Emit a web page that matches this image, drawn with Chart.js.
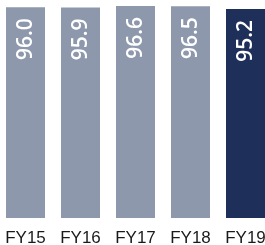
<!DOCTYPE html>
<html>
<head>
<meta charset="utf-8">
<script src="https://cdn.jsdelivr.net/npm/chart.js@4"></script>
<style>
  html, body { margin: 0; padding: 0; background: #fff; overflow: hidden; }
  #wrap { position: absolute; left: -2px; top: 0; width: 275px; height: 245px; }
</style>
</head>
<body>
<div id="wrap"><canvas id="chart"></canvas></div>
<script>
const years = ["FY15", "FY16", "FY17", "FY18", "FY19"];
const scores = [96.0, 95.9, 96.6, 96.5, 95.2];
const barColors = ["#8d98ad", "#8d98ad", "#8d98ad", "#8d98ad", "#1e2f5a"];

// rotated value labels inside the top of each bar
const valueLabels = {
  id: "valueLabels",
  afterDatasetsDraw(chart) {
    const ctx = chart.ctx;
    const meta = chart.getDatasetMeta(0);
    ctx.save();
    ctx.fillStyle = "#fff";
    ctx.font = "600 21px 'Open Sans', Arial, sans-serif";
    ctx.textAlign = "right";
    ctx.textBaseline = "middle";
    meta.data.forEach((bar, i) => {
      ctx.save();
      ctx.translate(bar.x + 1, bar.y + 11);
      ctx.rotate(-Math.PI / 2);
      ctx.fillText(scores[i].toFixed(1), 0, 0);
      ctx.restore();
    });
    ctx.restore();
  }
};

new Chart(document.getElementById("chart"), {
  type: "bar",
  data: {
    labels: years,
    datasets: [{
      data: scores,
      backgroundColor: barColors,
      categoryPercentage: 39 / 55,
      barPercentage: 1
    }]
  },
  options: {
    responsive: true,
    maintainAspectRatio: false,
    animation: false,
    layout: { padding: 0 },
    plugins: { legend: { display: false }, tooltip: { enabled: false } },
    scales: {
      x: {
        grid: { display: false },
        border: { display: false },
        afterFit(scale) { scale.height = 27; },
        ticks: {
          color: "#1a1a1a",
          font: { family: "'Liberation Sans', Arial, sans-serif", size: 17 },
          padding: 2,
          maxRotation: 0
        }
      },
      y: {
        display: false,
        min: 0,
        max: 99.33
      }
    }
  },
  plugins: [valueLabels]
});
</script>
</body>
</html>
